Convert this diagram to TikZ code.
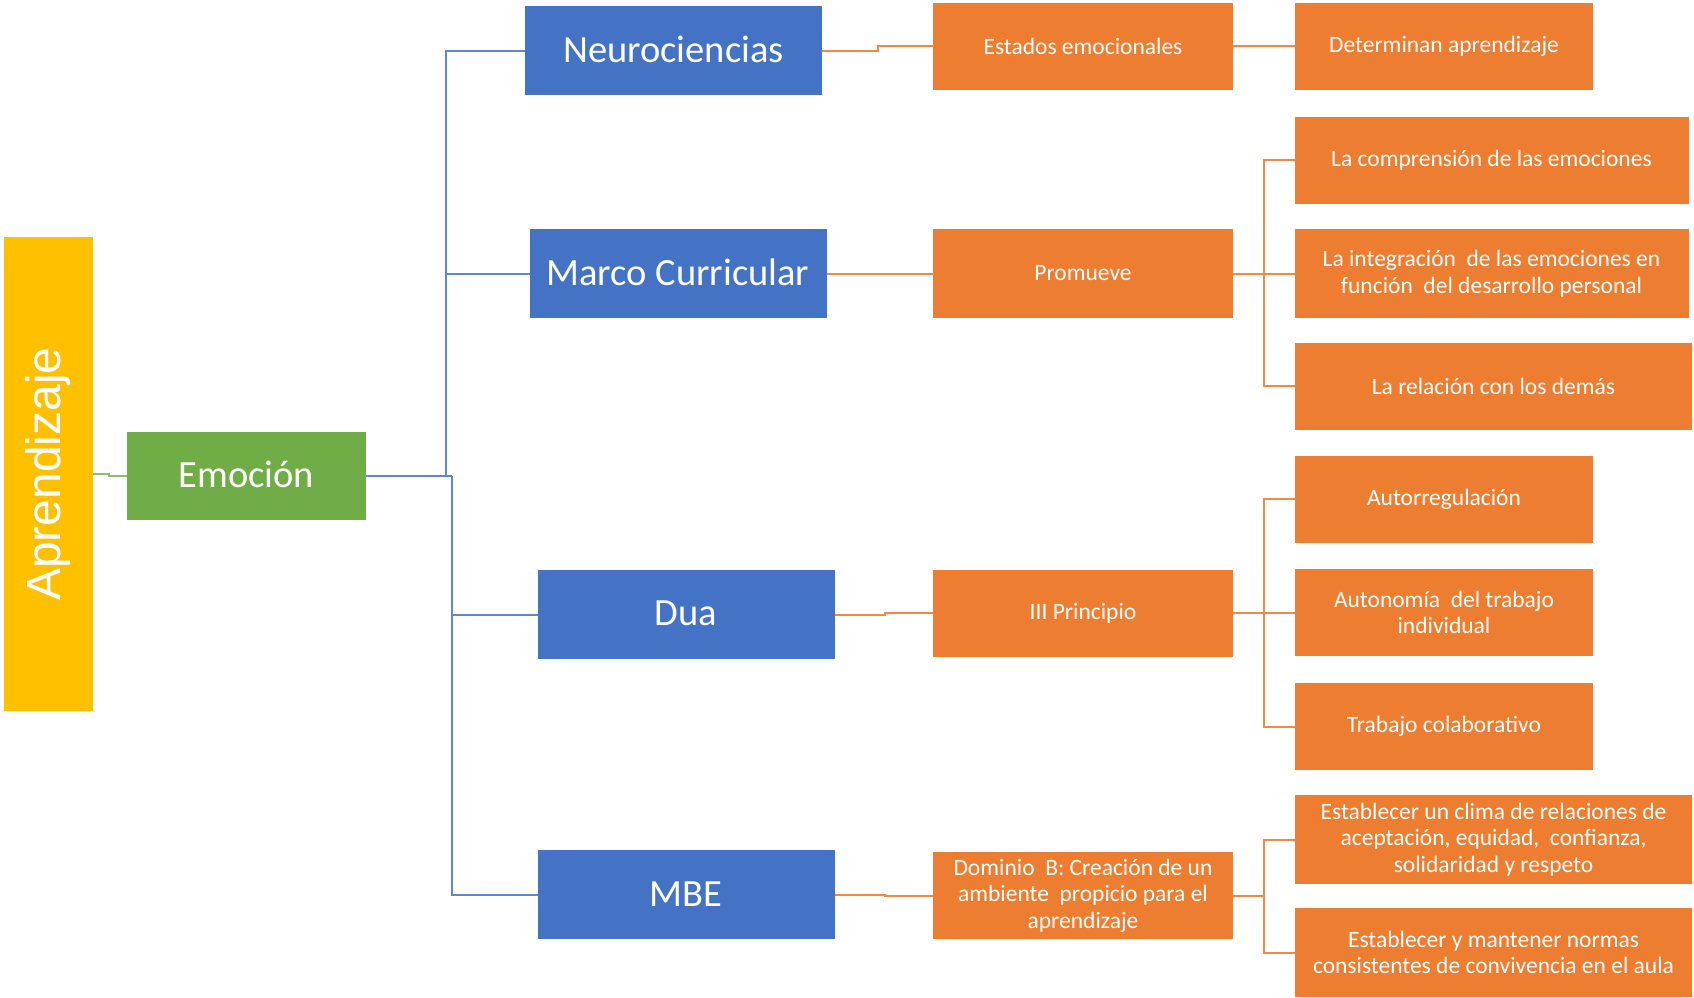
\documentclass[tikz,border=0pt]{standalone}
\usepackage{fontspec}
\setmainfont{Carlito}
\newfontfamily\aprfont{Liberation Sans}
\definecolor{cblue}{HTML}{4472C4}
\definecolor{corange}{HTML}{ED7D31}
\definecolor{cgreen}{HTML}{70AD47}
\definecolor{cyellow}{HTML}{FFC000}
\begin{document}
\begin{tikzpicture}[x=1pt,y=-1pt,
  box/.style={draw=none, inner sep=2pt, outer sep=0pt, text=white, align=center},
  bluebox/.style={box, fill=cblue, minimum width=297pt, minimum height=89pt, font=\fontsize{38.5}{46}\selectfont},
  orbox/.style={box, fill=corange, minimum height=87pt, font=\fontsize{23.5}{26.5}\selectfont},
  narrow/.style={orbox, minimum width=298pt},
  wide/.style={orbox, minimum width=394pt},
  blueline/.style={draw=cblue!85!white, line width=2pt},
  orline/.style={draw=corange!90!white, line width=2pt},
  greenline/.style={draw=cgreen!80!white, line width=1.6pt}]
\useasboundingbox (0,0) rectangle (1694,997);

% root
\node[box, fill=cyellow, minimum width=89pt, minimum height=474pt] (apr) at (48.5,474)
  {\aprfont\fontsize{48}{56}\selectfont\rotatebox{90}{Aprendizaje}};
\node[box, fill=cgreen, minimum width=239pt, minimum height=88pt, font=\fontsize{38.5}{46}\selectfont] (emo) at (246.5,476) {\raisebox{3pt}{Emoción}};

% blue level
\node[bluebox] (neuro) at (673.5,50.7) {\raisebox{3pt}{Neurociencias}};
\node[bluebox] (marco) at (678,273.5) {\raisebox{3pt}{Marco Curricular}};
\node[bluebox] (dua) at (686,614.5) {\raisebox{2pt}{Dua}};
\node[bluebox] (mbe) at (686,894.5) {MBE};

% orange column 1
\node[narrow, minimum width=300pt] (estados) at (1083,46) {Estados emocionales};
\node[narrow, minimum width=300pt, minimum height=89pt] (prom) at (1083,273.5) {Promueve};
\node[narrow, minimum width=300pt] (iii) at (1083,613) {III Principio};
\node[narrow, minimum width=300pt] (dom) at (1083,895.5) {Dominio~ B: Creación de un\\ambiente~ propicio para el\\aprendizaje};

% orange column 2
\node[narrow] (det) at (1444,46) {Determinan aprendizaje};
\node[wide] (comp) at (1491.5,160) {La comprensión de las emociones};
\node[wide, minimum height=89pt] (integ) at (1491.5,273.5) {La integración~ de las emociones en\\función~ del desarrollo personal};
\node[wide, minimum width=397pt] (rel) at (1493.5,386) {La relación con los demás};
\node[narrow] (autor) at (1444,499) {Autorregulación};
\node[narrow] (auton) at (1444,612.5) {Autonomía~ del trabajo\\individual};
\node[narrow] (trab) at (1444,726.5) {Trabajo colaborativo};
\node[wide, minimum width=397pt, minimum height=89pt] (clima) at (1493.5,839.5) {Establecer un clima de relaciones de\\aceptación, equidad,~ confianza,\\solidaridad y respeto};
\node[wide, minimum width=397pt, minimum height=89pt] (mant) at (1493.5,952.5) {Establecer y mantener normas\\consistentes de convivencia en el aula};

% junctions
\coordinate (bj1) at (446,476);
\coordinate (bj2) at (452,476);
\coordinate (pj) at (1264,273.5);
\coordinate (ij) at (1264,613);
\coordinate (dj) at (1264,895.5);

% green connector
\draw[greenline] (apr.east) -- ++(16,0) |- (emo.west);

% blue connectors
\draw[blueline] (emo.east) -- (bj2);
\draw[blueline] (bj1) |- (neuro.west);
\draw[blueline] (bj1) |- (marco.west);
\draw[blueline] (bj2) |- (dua.west);
\draw[blueline] (bj2) |- (mbe.west);

% orange connectors level 1
\draw[orline] (neuro.east) -- ++(56,0) |- (estados.west);
\draw[orline] (marco.east) -- (prom.west);
\draw[orline] (dua.east) -- ++(50,0) |- (iii.west);
\draw[orline] (mbe.east) -- ++(50,0) |- (dom.west);

% orange connectors level 2
\draw[orline] (estados.east) -- (det.west);
\draw[orline] (prom.east) -- (pj);
\draw[orline] (pj) |- (comp.west);
\draw[orline] (pj) -- (integ.west);
\draw[orline] (pj) |- (rel.west);
\draw[orline] (iii.east) -- (ij);
\draw[orline] (ij) |- (autor.west);
\draw[orline] (ij) |- (auton.west);
\draw[orline] (ij) |- (trab.west);
\draw[orline] (dom.east) -- (dj);
\draw[orline] (dj) |- (clima.west);
\draw[orline] (dj) |- (mant.west);
\end{tikzpicture}
\end{document}
